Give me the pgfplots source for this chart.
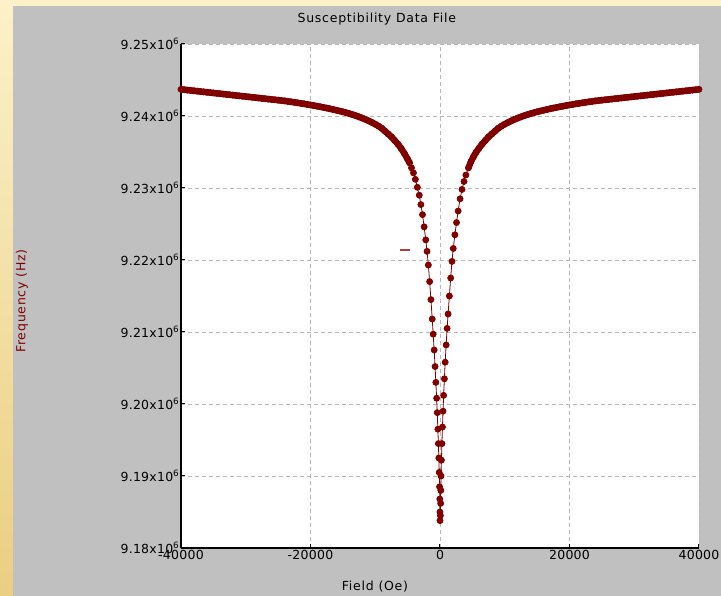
\documentclass[border=0pt]{standalone}
\usepackage{fontspec}
\setmainfont{DejaVu Sans}
\usepackage{pgfplots}
\usepackage{pgfplotstable}
\pgfplotsset{compat=1.18}
\definecolor{dred}{RGB}{128,0,0}
\definecolor{lred}{RGB}{176,60,60}
\definecolor{panel}{RGB}{192,192,192}
\definecolor{slideA}{RGB}{252,241,200}
\definecolor{slideB}{RGB}{234,206,130}
\definecolor{gridc}{RGB}{185,185,185}
\newfontfamily\widefnt[LetterSpace=6]{DejaVu Sans}
\newfontfamily\tickfnt[LetterSpace=2]{DejaVu Sans}
\newcommand{\lf}{\widefnt\fontsize{12.5}{14}\selectfont}
\newcommand{\tf}{\tickfnt\fontsize{12.5}{14}\selectfont}
\pgfplotstableread{
H f
-40000 9.24370
-39500 9.24365
-39000 9.24360
-38500 9.24355
-38000 9.24350
-37500 9.24345
-37000 9.24340
-36500 9.24335
-36000 9.24330
-35500 9.24325
-35000 9.24320
-34500 9.24315
-34000 9.24310
-33500 9.24305
-33000 9.24300
-32500 9.24295
-32000 9.24290
-31500 9.24285
-31000 9.24280
-30500 9.24275
-30000 9.24270
-29500 9.24265
-29000 9.24260
-28500 9.24255
-28000 9.24250
-27500 9.24245
-27000 9.24240
-26500 9.24235
-26000 9.24230
-25500 9.24225
-25000 9.24220
-24500 9.24215
-24000 9.24210
-23500 9.24203
-23000 9.24197
-22500 9.24190
-22000 9.24183
-21500 9.24176
-21000 9.24169
-20500 9.24161
-20000 9.24153
-19500 9.24145
-19000 9.24137
-18500 9.24128
-18000 9.24119
-17500 9.24110
-17000 9.24100
-16500 9.24090
-16000 9.24080
-15500 9.24069
-15000 9.24058
-14500 9.24046
-14000 9.24033
-13500 9.24019
-13000 9.24004
-12500 9.23988
-12000 9.23971
-11500 9.23952
-11000 9.23932
-10500 9.23910
-10000 9.23886
-9500 9.2386
-9000 9.2383
-8500 9.2379
-8000 9.2375
-7500 9.2371
-7000 9.2366
-6500 9.2361
-6000 9.2355
-5500 9.2348
-5000 9.2340
-4700 9.2335
-4400 9.2328
-4100 9.2321
-3800 9.2312
-3500 9.2301
-3200 9.2290
-2950 9.2277
-2700 9.2263
-2450 9.2246
-2200 9.2228
-2000 9.2212
-1800 9.2193
-1600 9.2170
-1400 9.2145
-1200 9.2118
-1050 9.2097
-900 9.2075
-760 9.2052
-640 9.2030
-520 9.2008
-420 9.1988
-330 9.1965
-250 9.1945
-180 9.1925
-120 9.1905
-70 9.1885
-30 9.1868
-10 9.1850
0 9.1838
60 9.1845
100 9.1862
130 9.1880
160 9.1900
220 9.1922
300 9.1945
380 9.1968
470 9.1990
560 9.2012
680 9.2035
800 9.2058
950 9.2082
1100 9.2105
1250 9.2125
1450 9.2150
1650 9.2175
1850 9.2198
2050 9.2216
2300 9.2235
2550 9.2252
2800 9.2268
3100 9.2285
3400 9.2298
3700 9.2309
4000 9.2318
4400 9.2328
4800 9.2337
5200 9.2344
5600 9.2350
6000 9.2355
6500 9.2361
7000 9.2366
7500 9.2371
8000 9.2375
8500 9.2379
9000 9.2383
9500 9.2386
10000 9.23886
10500 9.23910
11000 9.23932
11500 9.23952
12000 9.23971
12500 9.23988
13000 9.24004
13500 9.24019
14000 9.24033
14500 9.24046
15000 9.24058
15500 9.24069
16000 9.24080
16500 9.24090
17000 9.24100
17500 9.24110
18000 9.24119
18500 9.24128
19000 9.24137
19500 9.24145
20000 9.24153
20500 9.24161
21000 9.24169
21500 9.24176
22000 9.24183
22500 9.24190
23000 9.24197
23500 9.24203
24000 9.24210
24500 9.24215
25000 9.24220
25500 9.24225
26000 9.24230
26500 9.24235
27000 9.24240
27500 9.24245
28000 9.24250
28500 9.24255
29000 9.24260
29500 9.24265
30000 9.24270
30500 9.24275
31000 9.24280
31500 9.24285
32000 9.24290
32500 9.24295
33000 9.24300
33500 9.24305
34000 9.24310
34500 9.24315
35000 9.24320
35500 9.24325
36000 9.24330
36500 9.24335
37000 9.24340
37500 9.24345
38000 9.24350
38500 9.24355
39000 9.24360
39500 9.24365
40000 9.24370
}\sweep
\begin{document}
\begin{tikzpicture}[x=1pt,y=1pt]
\useasboundingbox (0,0) rectangle (721,596);
\shade[top color=slideA, bottom color=slideB] (0,0) rectangle (721,596);
\fill[panel] (13,0) rectangle (721,590);
\begin{axis}[
  at={(181pt,48pt)}, anchor=south west,
  scale only axis, width=518pt, height=504pt,
  xmin=-40000, xmax=40000, ymin=9.18, ymax=9.25,
  scaled x ticks=false, scaled y ticks=false,
  xtick={-40000,-20000,0,20000,40000},
  xticklabels={-40000,-20000,0,20000,40000},
  ytick={9.18,9.19,9.20,9.21,9.22,9.23,9.24,9.25},
  yticklabels={9.18x10\textsuperscript{6},9.19x10\textsuperscript{6},9.20x10\textsuperscript{6},9.21x10\textsuperscript{6},9.22x10\textsuperscript{6},9.23x10\textsuperscript{6},9.24x10\textsuperscript{6},9.25x10\textsuperscript{6}},
  axis x line*=bottom, axis y line*=left,
  axis line style={black, line width=1.3pt, -},
  tick align=inside, major tick length=4pt,
  tick style={black, line width=1pt},
  grid=major, grid style={dash pattern=on 4pt off 3pt, color=gridc, line width=0.9pt},
  axis background/.style={fill=white},
  ticklabel style={font=\tf, text=black},
  yticklabel style={inner sep=1.5pt},
  xticklabel style={inner sep=2pt},
  title={Susceptibility Data File},
  title style={font=\lf, at={(axis description cs:0.378,1.0367)}, anchor=center},
  xlabel={Field (Oe)},
  xlabel style={font=\lf, at={(axis description cs:0.3745,-0.0774)}, anchor=center},
  ylabel={Frequency (Hz)},
  ylabel style={font=\lf, text=dred, at={(axis description cs:-0.307,0.49)}, anchor=center},
]
\addplot[color=lred, line width=1.5pt, forget plot] coordinates {(-6200,9.2214) (-4600,9.2214)};
\addplot[color=dred, line width=6.4pt, line join=round, line cap=round, no marks, forget plot,
  restrict x to domain=-40000:-4700] table[x=H, y=f] {\sweep};
\addplot[color=dred, line width=6.4pt, line join=round, line cap=round, no marks, forget plot,
  restrict x to domain=4400:40000] table[x=H, y=f] {\sweep};
\addplot[color=dred, line width=0.8pt, mark=*, mark size=3pt, mark options={fill=dred, draw=dred}]
  table[x=H, y=f] {\sweep};
\end{axis}
\end{tikzpicture}
\end{document}
